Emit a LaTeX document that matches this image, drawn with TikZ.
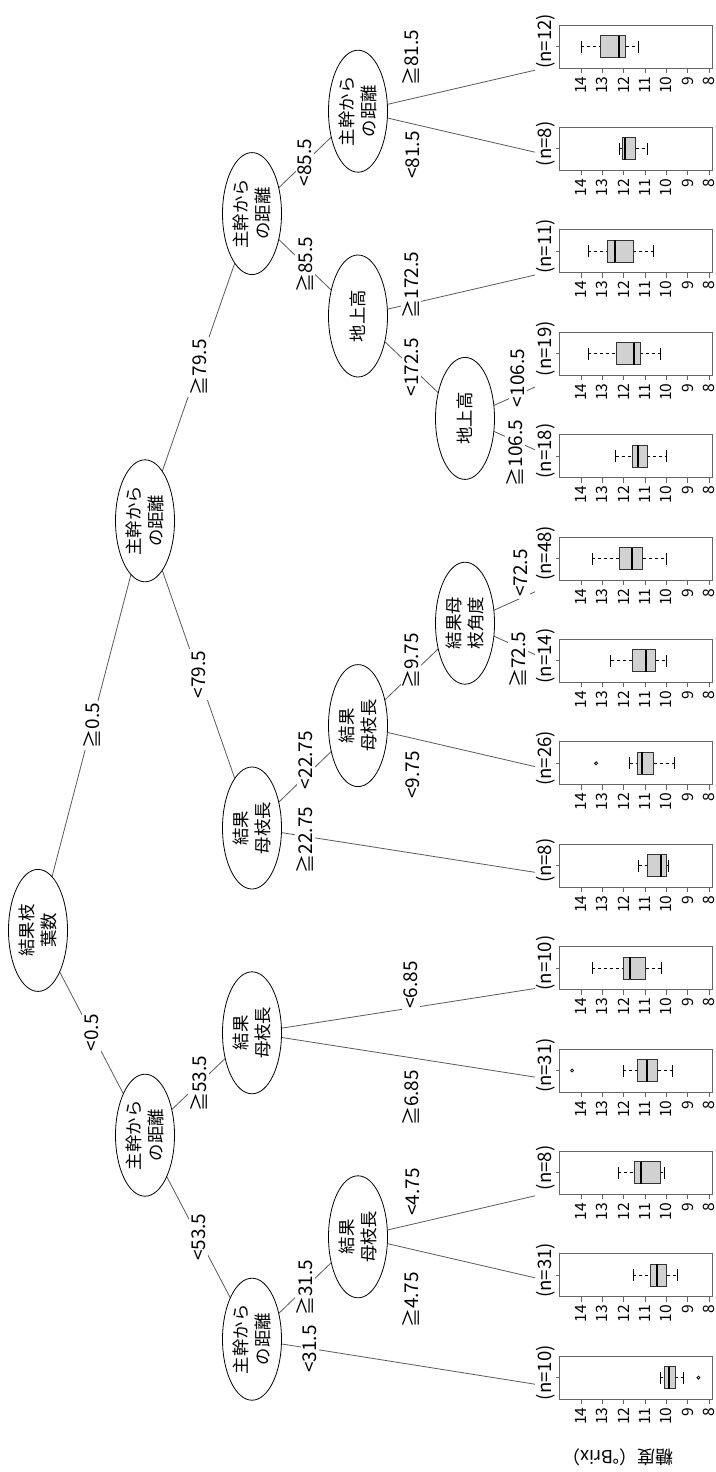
\documentclass[tikz,border=0pt]{standalone}
\usepackage{fontspec}
\setmainfont{Noto Sans CJK JP}
\usetikzlibrary{shapes.geometric,backgrounds}

\begin{document}
\begin{tikzpicture}[x=0.5pt,y=-0.5pt,
    splitnode/.style={ellipse,draw,fill=white,rotate=90,minimum width=61pt,minimum height=29.5pt,
      inner sep=0pt,align=center,font=\fontsize{8.7}{10.8}\selectfont},
    branch/.style={draw=black!65,line width=0.4pt},
    cutlbl/.style={fill=white,rotate=90,inner sep=1pt,font=\fontsize{9.5}{11}\selectfont},
    panelframe/.style={draw=black!60,line width=0.45pt},
    whisk/.style={line width=0.45pt,dash pattern=on 1.5pt off 1.5pt},
    nlbl/.style={rotate=90,inner sep=0pt,font=\fontsize{9.3}{11}\selectfont},
    ticklbl/.style={rotate=90,anchor=east,inner sep=1.5pt,font=\fontsize{7.8}{9}\selectfont}]

    \useasboundingbox (0,0) rectangle (716,1472);

    % Inner nodes
    \node[splitnode] (root) at (38,930.4)  {結果枝\\葉数};
    \node[splitnode] (A)    at (145,520.8) {主幹から\\の距離};
    \node[splitnode] (I)    at (145,1135.2){主幹から\\の距離};
    \node[splitnode] (B)    at (252,213.6) {主幹から\\の距離};
    \node[splitnode] (F)    at (252,828)   {結果\\母枝長};
    \node[splitnode] (J)    at (252,1032.8){結果\\母枝長};
    \node[splitnode] (K)    at (252,1339.2){主幹から\\の距離};
    \node[splitnode] (C)    at (358,111.2) {主幹から\\の距離};
    \node[splitnode] (D)    at (358,316)   {地上高};
    \node[splitnode] (G)    at (358,725.6) {結果\\母枝長};
    \node[splitnode] (L)    at (358,1236.8){結果\\母枝長};
    \node[splitnode] (E)    at (465,418.4) {地上高};
    \node[splitnode] (H)    at (465,623.2) {結果母\\枝角度};

    % Leaf ends (where the branch meets the panel)
    \foreach \y [count=\i from 0] in {70.2,152.2,275,387,449.8,591.8,654.6,766.6,872.3,988.5,1077.1,1195.8,1277.8,1384.2}
        \coordinate (lf\i) at (535,\y);

    % Branches
    \begin{pgfonlayer}{background}
    \draw[branch] (root.center) -- node[cutlbl] {≧0.5} (A.center);
    \draw[branch] (root.center) -- node[cutlbl] {<0.5} (I.center);
    \draw[branch] (A.center) -- node[cutlbl] {≧79.5} (B.center);
    \draw[branch] (A.center) -- node[cutlbl] {<79.5} (F.center);
    \draw[branch] (B.center) -- node[cutlbl] {<85.5} (C.center);
    \draw[branch] (B.center) -- node[cutlbl] {≧85.5} (D.center);
    \draw[branch] (D.center) -- node[cutlbl] {<172.5} (E.center);
    \draw[branch] (F.center) -- (G.center);
    \draw[branch] (G.center) -- (H.center);
    \draw[branch] (I.center) -- node[cutlbl] {≧53.5} (J.center);
    \draw[branch] (I.center) -- node[cutlbl] {<53.5} (K.center);
    \draw[branch] (K.center) -- node[cutlbl] {≧31.5} (L.center);
    \draw[branch] (C.center) -- (lf0);
    \draw[branch] (C.center) -- (lf1);
    \draw[branch] (D.center) -- (lf2);
    \draw[branch] (E.center) -- (lf3);
    \draw[branch] (E.center) -- (lf4);
    \draw[branch] (H.center) -- (lf5);
    \draw[branch] (H.center) -- (lf6);
    \draw[branch] (G.center) -- (lf7);
    \draw[branch] (F.center) -- (lf8);
    \draw[branch] (J.center) -- (lf9);
    \draw[branch] (J.center) -- (lf10);
    \draw[branch] (L.center) -- (lf11);
    \draw[branch] (L.center) -- (lf12);
    \draw[branch] (K.center) -- (lf13);
    \end{pgfonlayer}

    % Labels placed off the mid point
    \node[cutlbl] (fg)  at (306,760)  {<22.75};
    \node[cutlbl] (gh)  at (411,661)  {≧9.75};
    \node[cutlbl] (c0)  at (411,58)   {≧81.5};
    \node[cutlbl] (c1)  at (413,155)  {<81.5};
    \node[cutlbl] (c2)  at (411,285)  {≧172.5};
    \node[cutlbl] (c3)  at (518,378)  {<106.5};
    \node[cutlbl] (c4)  at (515,453)  {≧106.5};
    \node[cutlbl] (c5)  at (521,573)  {<72.5};
    \node[cutlbl] (c6)  at (518,660)  {≧72.5};
    \node[cutlbl] (c7)  at (413,775)  {<9.75};
    \node[cutlbl] (c8)  at (305,840)  {≧22.75};
    \node[cutlbl] (c9)  at (411,985)  {<6.85};
    \node[cutlbl] (c10) at (411,1098) {≧6.85};
    \node[cutlbl] (c11) at (413,1192) {<4.75};
    \node[cutlbl] (c12) at (411,1300) {≧4.75};
    \node[cutlbl] (c13) at (310,1349) {<31.5};

    % Box plots (n / upper cap / box top / median / box bottom / lower cap)
    \foreach \nn/\hi/\qa/\md/\qb/\lo [count=\i from 0] in {
        12/14.0/13.1/12.2/11.9/11.3,
        8/12.2/12.06/11.92/11.44/10.9,
        11/13.67/12.76/12.41/11.55/10.59,
        19/13.67/12.36/11.51/11.23/10.29,
        18/12.38/11.58/11.32/10.89/10.0,
        48/13.48/12.2/11.62/11.12/10.0,
        14/12.6/11.58/10.98/10.5/10.0,
        26/11.73/11.38/11.14/10.59/9.6,
        8/11.3/10.89/10.26/10.0/9.91,
        10/13.48/12.03/11.7/10.97/10.21,
        31/12.03/11.35/10.91/10.41/9.71,
        8/12.27/11.49/11.2/10.29/10.09,
        31/11.55/10.74/10.44/9.99/9.47,
        10/10.29/10.09/9.88/9.58/9.2}{
        \pgfmathsetmacro\ty{25+102.4*\i}
        \pgfmathsetmacro\yc{\ty+21.5}
        \draw[panelframe] (559,\ty) rectangle (712,{\ty+43});
        \draw[panelframe] (559,\yc) -- ++(-3,0);
        \node[nlbl] (nl\i) at (546,{\yc-5}) {(n=\nn)};
        % whiskers
        \draw[whisk] ({879.7-21.33*\hi},\yc) -- ({879.7-21.33*\qa},\yc);
        \draw[whisk] ({879.7-21.33*\qb},\yc) -- ({879.7-21.33*\lo},\yc);
        \draw[line width=0.45pt] ({879.7-21.33*\hi},{\yc-6}) -- ++(0,12);
        \draw[line width=0.45pt] ({879.7-21.33*\lo},{\yc-6}) -- ++(0,12);
        % box
        \draw[fill=black!18,draw=black!80,line width=0.45pt] ({879.7-21.33*\qa},{\yc-11}) rectangle ({879.7-21.33*\qb},{\yc+11});
        \draw[line width=1pt] ({879.7-21.33*\md},{\yc-11}) -- ++(0,22);
        % axis
        \foreach \v in {8,...,14}
            \draw[panelframe] ({879.7-21.33*\v},{\ty+43}) -- ++(0,5) node[ticklbl] (tk\i-\v) {\v};
    }

    % Outliers
    \draw[line width=0.4pt] ({879.7-21.33*13.3},763.3) circle[radius=1.5];
    \draw[line width=0.4pt] ({879.7-21.33*14.42},1070.5) circle[radius=1.5];
    \draw[line width=0.4pt] ({879.7-21.33*8.5},1377.7) circle[radius=1.5];

    % Axis title
    \node[rotate=180,font=\fontsize{9}{11}\selectfont] (ylab) at (618,1457) {糖度（°Brix）};

\end{tikzpicture}
\end{document}
